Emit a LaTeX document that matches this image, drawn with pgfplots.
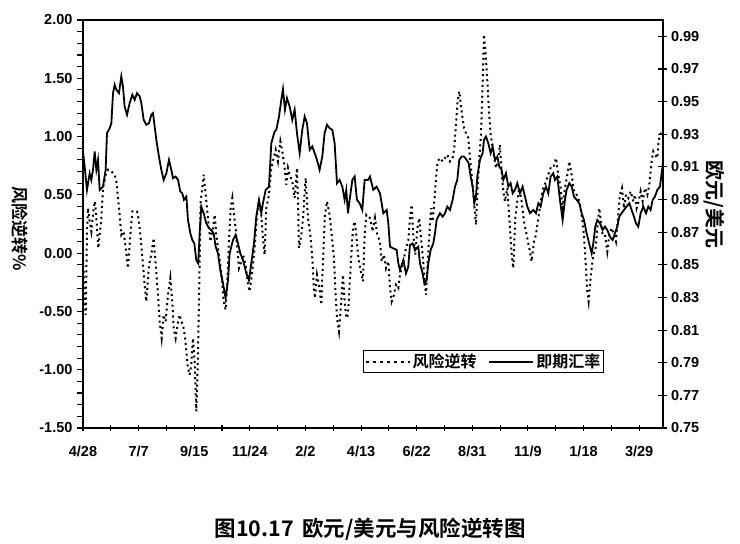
\documentclass[border=0pt]{standalone}
\usepackage{pgfplots}
\pgfplotsset{compat=1.18}
\usepackage{fontspec}
\setmainfont{Liberation Sans}
\newfontfamily\cjk{Noto Sans CJK SC}[BoldFont={Noto Sans CJK SC Bold}]

\pgfplotstableread{
day rr
0 -0.014
1.3 -0.272
3.4 -0.529
5.0 0.186
6.3 0.386
8.4 0.272
10.5 0.186
13.4 0.386
15.1 0.444
16.8 0.301
19.3 0.043
21.0 0.157
23.1 0.301
25.2 0.558
28.5 0.673
31.5 0.716
35.7 0.701
39.9 0.673
42.0 0.615
44.5 0.444
46.1 0.329
48.2 0.157
51.2 0.186
53.7 0.043
56.6 -0.129
59.6 0.157
62.1 0.358
65.0 0.358
68.0 0.358
70.5 0.272
73.0 0.100
75.5 -0.100
77.6 -0.272
79.7 -0.415
83.1 -0.100
86.0 -0.014
88.9 0.129
91.5 -0.100
94.4 -0.358
96.5 -0.587
99.0 -0.730
101.5 -0.529
104.0 -0.587
107.0 -0.358
109.9 -0.214
112.4 -0.415
114.1 -0.644
116.6 -0.730
119.6 -0.587
121.7 -0.529
123.8 -0.587
125.9 -0.615
128.0 -0.701
130.1 -0.844
132.1 -0.987
134.2 -1.044
136.3 -0.959
138.4 -0.730
140.5 -0.930
142.6 -1.359
144.3 -0.987
146.0 -0.415
148.1 0.444
150.2 0.558
151.9 0.673
154.4 0.501
157.3 0.301
160.3 0.100
163.6 0.215
165.7 0.329
167.8 0.157
169.9 0.043
172.8 -0.100
175.4 -0.272
177.0 -0.415
179.5 -0.486
181.6 -0.243
183.7 0.100
185.8 0.386
187.9 0.472
190.0 0.329
192.1 0.215
194.2 0.043
196.3 -0.129
198.0 -0.100
201.4 -0.014
204.7 -0.100
207.7 -0.272
209.8 -0.329
213.1 -0.157
216.0 0.043
219.0 0.329
221.5 0.444
224.4 0.329
226.5 0.129
228.6 -0.014
230.7 0.386
234.1 0.501
237.0 0.730
240.0 0.816
242.5 0.887
245.4 0.787
248.4 0.959
250.9 0.873
253.8 0.730
255.9 0.587
258.0 0.730
260.1 0.673
263.4 0.615
266.4 0.472
269.3 0.730
270.6 0.444
271.8 0.043
274.8 0.157
276.9 0.301
280.2 0.644
283.2 0.301
286.1 0.157
288.6 -0.043
290.3 -0.272
292.0 -0.386
294.5 -0.186
297.0 -0.272
299.9 -0.443
302.0 -0.071
304.6 0.329
307.1 0.444
310.4 0.329
313.0 0.157
315.5 -0.014
318.0 -0.358
319.7 -0.558
322.2 -0.672
325.1 -0.415
327.2 -0.186
329.3 -0.415
331.4 -0.558
333.5 -0.529
335.6 -0.272
337.7 -0.014
339.8 0.215
341.9 0.272
344.0 0.157
346.1 -0.014
349.0 -0.129
352.4 -0.243
354.5 0.157
356.6 0.329
361.2 0.301
364.6 0.186
367.5 0.301
370.4 0.157
373.8 0.100
375.9 -0.071
378.8 -0.014
381.3 -0.129
384.3 -0.071
386.4 -0.300
388.5 -0.415
391.4 -0.358
393.9 -0.272
396.9 -0.300
398.9 -0.186
401.1 -0.129
403.2 -0.071
406.5 0.043
409.4 0.100
411.5 0.301
413.6 0.415
415.7 0.157
418.3 -0.014
420.8 0.215
423.3 0.301
425.0 0.157
427.5 -0.014
430.0 -0.243
431.7 -0.358
433.4 -0.129
435.9 0.157
438.0 0.386
440.1 0.272
442.2 0.444
444.3 0.644
446.4 0.787
449.3 0.816
452.7 0.787
455.6 0.816
458.5 0.844
461.9 0.787
465.2 0.816
467.3 0.902
469.4 1.102
471.5 1.302
473.6 1.388
476.6 1.216
479.5 1.073
482.9 1.016
485.0 0.987
487.1 0.816
489.6 0.644
492.1 0.444
494.6 0.243
496.7 0.558
498.8 0.816
500.9 1.016
503.0 1.445
504.7 1.875
506.8 1.703
508.9 1.474
511.0 1.216
513.1 1.016
516.4 0.873
519.8 0.730
522.7 0.816
524.8 0.930
526.9 0.701
529.0 0.530
531.1 0.444
534.0 0.558
537.4 0.215
539.5 -0.014
541.6 -0.129
544.1 0.301
546.6 0.444
549.1 0.558
552.1 0.444
555.0 0.272
558.4 0.157
561.7 0.043
564.7 -0.071
567.6 0.100
570.1 0.157
573.1 0.301
576.0 0.444
579.3 0.558
582.7 0.615
585.6 0.673
588.6 0.730
591.9 0.730
595.3 0.816
598.2 0.673
601.2 0.558
603.7 0.386
606.6 0.558
609.6 0.673
612.1 0.787
615.0 0.673
618.0 0.530
621.3 0.501
624.7 0.444
627.6 0.329
630.5 0.157
633.1 -0.129
634.7 -0.329
636.4 -0.415
638.1 -0.272
640.2 -0.129
642.3 -0.014
645.2 0.043
647.3 0.215
649.8 0.386
651.9 0.272
654.0 0.157
657.0 0.157
659.9 0.014
662.4 0.157
665.4 0.215
668.3 0.157
670.8 0.100
673.7 0.329
675.8 0.501
678.4 0.558
680.9 0.386
683.4 0.501
686.3 0.472
689.3 0.530
692.6 0.444
694.7 0.501
696.8 0.386
699.3 0.444
701.9 0.530
704.4 0.444
707.3 0.558
710.3 0.501
712.8 0.587
715.7 0.787
717.8 0.873
719.9 0.844
722.8 0.816
724.5 0.959
726.2 1.016
728.7 1.045
730 1.045
}\riskrev

\pgfplotstableread{
day spot
0 0.9194
2.1 0.9102
5.0 0.8959
8.4 0.9061
10.5 0.9020
12.6 0.9082
14.7 0.9194
16.8 0.9082
18.9 0.9143
21.0 0.8959
25.2 0.8979
28.5 0.9082
30.2 0.9307
33.6 0.9337
35.7 0.9368
37.8 0.9552
39.9 0.9603
42.0 0.9573
45.3 0.9552
48.2 0.9654
50.3 0.9593
52.4 0.9470
55.4 0.9419
58.7 0.9491
62.1 0.9542
65.0 0.9511
68.0 0.9552
71.3 0.9532
73.4 0.9491
76.4 0.9388
79.7 0.9358
83.1 0.9368
86.0 0.9419
88.1 0.9429
90.2 0.9348
92.3 0.9266
95.6 0.9163
98.6 0.9082
101.5 0.9020
104.9 0.9061
108.2 0.9143
111.2 0.9082
113.3 0.9030
116.6 0.9041
119.6 0.9020
122.5 0.8949
125.0 0.8938
127.1 0.8898
130.1 0.8918
132.1 0.8775
135.1 0.8693
137.6 0.8652
140.1 0.8631
142.6 0.8529
145.1 0.8509
146.8 0.8693
148.9 0.8857
151.9 0.8816
155.2 0.8754
158.6 0.8724
161.5 0.8713
164.4 0.8693
167.0 0.8611
169.9 0.8570
172.8 0.8468
176.2 0.8386
179.5 0.8294
182.5 0.8406
184.6 0.8570
188.8 0.8652
192.1 0.8683
195.1 0.8631
198.0 0.8570
201.4 0.8529
205.6 0.8447
208.9 0.8406
211.8 0.8509
215.2 0.8631
218.1 0.8795
221.5 0.8898
224.4 0.8816
226.5 0.8877
229.9 0.8959
234.1 0.8979
237.0 0.9245
241.2 0.9317
243.3 0.9327
246.7 0.9409
249.6 0.9511
251.7 0.9577
254.2 0.9450
256.7 0.9521
260.1 0.9470
263.4 0.9388
266.4 0.9450
269.3 0.9307
272.7 0.9184
276.0 0.9327
279.0 0.9409
281.9 0.9368
285.3 0.9204
288.6 0.9225
291.6 0.9184
294.5 0.9143
297.8 0.9082
301.2 0.9163
304.1 0.9307
307.1 0.9358
310.4 0.9337
313.8 0.9327
316.7 0.9245
319.7 0.9000
323.0 0.9020
326.4 0.8979
329.3 0.8898
331.4 0.8959
333.5 0.8816
335.6 0.8898
339.0 0.9020
341.9 0.9041
344.8 0.8898
348.2 0.8877
351.5 0.8836
354.5 0.9020
358.7 0.9020
361.2 0.9041
365.4 0.8959
369.6 0.8979
373.8 0.8938
378.0 0.8816
382.2 0.8836
384.3 0.8754
386.4 0.8611
390.6 0.8601
394.8 0.8591
396.9 0.8509
398.9 0.8468
403.2 0.8529
406.5 0.8447
409.4 0.8488
411.5 0.8621
414.9 0.8631
417.8 0.8591
422.0 0.8611
424.1 0.8509
427.5 0.8447
429.6 0.8386
432.5 0.8406
434.6 0.8509
437.6 0.8591
440.9 0.8631
443.0 0.8693
445.1 0.8775
449.3 0.8816
452.7 0.8795
455.6 0.8816
458.5 0.8857
461.9 0.8836
465.2 0.8898
468.2 0.8979
471.1 0.9020
473.6 0.9143
476.6 0.9163
479.5 0.9163
482.9 0.9143
485.4 0.9122
487.9 0.9041
490.4 0.8979
492.5 0.8877
494.6 0.8918
496.3 0.9041
499.6 0.9143
503.0 0.9184
504.7 0.9266
507.2 0.9286
510.1 0.9245
513.1 0.9184
515.6 0.9225
518.5 0.9143
521.5 0.9163
524.0 0.9102
526.9 0.9082
529.0 0.9020
532.4 0.9061
535.3 0.8979
538.2 0.9000
540.8 0.8938
543.7 0.8959
546.6 0.9000
550.0 0.8938
553.3 0.8979
556.3 0.8918
559.2 0.8857
562.6 0.8816
566.8 0.8836
570.1 0.8816
573.1 0.8877
576.0 0.8857
579.3 0.8938
582.7 0.8979
585.6 0.8938
588.6 0.9041
591.9 0.9061
594.0 0.9020
597.0 0.9041
600.3 0.8898
603.7 0.8775
606.6 0.8898
608.7 0.8959
612.1 0.9000
615.0 0.8979
618.0 0.8918
621.3 0.8898
624.7 0.8877
627.6 0.8816
630.5 0.8775
633.9 0.8693
636.0 0.8652
638.1 0.8611
640.2 0.8570
642.3 0.8631
644.8 0.8734
647.3 0.8775
650.7 0.8754
654.0 0.8713
657.0 0.8734
659.9 0.8713
663.2 0.8672
666.6 0.8652
669.5 0.8693
672.5 0.8734
675.0 0.8795
677.9 0.8816
680.9 0.8836
684.2 0.8857
687.6 0.8877
690.5 0.8836
693.5 0.8795
696.0 0.8754
698.9 0.8734
701.9 0.8816
705.2 0.8857
708.6 0.8816
711.5 0.8857
714.4 0.8836
717.0 0.8898
719.9 0.8918
722.8 0.8959
726.2 0.8979
728.3 0.9061
730 0.9122
}\spot

\begin{document}
\begin{tikzpicture}
\useasboundingbox (0pt,0pt) rectangle (740pt,544pt);
\pgfplotsset{
  common/.style={
    at={(83pt,116pt)}, anchor=south west,
    scale only axis, width=580pt, height=408pt,
    xmin=0, xmax=730,
    axis line style={line width=1.3pt},
    tick style={line width=1.1pt, black},
    major tick length=6pt, minor tick length=6pt,
    tick label style={font=\fontsize{14.5}{14.5}\selectfont\bfseries},
    /pgf/number format/assume math mode=true,
  },
}
\begin{axis}[common,
  ymin=-1.5, ymax=2,
  tick pos=left,
  xtick={0,70,...,700},
  minor xtick={35,105,...,665},
  xticklabels={4/28,7/7,9/15,11/24,2/2,4/13,6/22,8/31,11/9,1/18,3/29},
  xtick align=center,
  ytick={-1.5,-1,-0.5,0,0.5,1,1.5,2},
  minor ytick={-1.4,-1.3,-1.2,-1.1,-0.9,-0.8,-0.7,-0.6,-0.4,-0.3,-0.2,-0.1,0.1,0.2,0.3,0.4,0.6,0.7,0.8,0.9,1.1,1.2,1.3,1.4,1.6,1.7,1.8,1.9},
  ytick align=outside,
  yticklabel style={/pgf/number format/.cd, fixed, fixed zerofill, precision=2},
  xticklabel shift=11pt,
  yticklabel shift=1pt,
  clip=false,
]
\addplot[black, line width=2pt, dash pattern=on 2pt off 3.4pt] table[x=day, y=rr] {\riskrev};
\node[rotate=-90, font=\cjk\fontsize{17}{17}\selectfont\bfseries] at (rel axis cs:-0.108,0.488) {风险逆转\%};
\node[font=\cjk\fontsize{21.5}{21.5}\selectfont\bfseries] at (rel axis cs:0.495,-0.2475) {图10.17\hspace{0.4em}欧元/美元与风险逆转图};
\end{axis}
\begin{axis}[common,
  ymin=0.75, ymax=1.0,
  axis x line=none,
  axis y line*=right,
  ytick={0.75,0.77,0.79,0.81,0.83,0.85,0.87,0.89,0.91,0.93,0.95,0.97,0.99},
  ytick align=center,
  major tick length=9pt,
  yticklabel style={/pgf/number format/.cd, fixed, fixed zerofill, precision=2},
  yticklabel shift=0pt,
  clip=false,
  legend columns=2,
  legend style={at={(0.4828,0.191)}, anchor=north west, draw=black, line width=1.1pt,
    font=\cjk\fontsize{16}{16}\selectfont\bfseries, inner sep=1.5pt,
    /tikz/every even column/.append style={column sep=10pt}},
  legend image code/.code={\draw[#1] (0pt,0pt) -- (44pt,0pt);},
]
\addlegendimage{black, line width=1.5pt, dash pattern=on 3pt off 4pt}
\addlegendentry{风险逆转}
\addplot[black, line width=1.8pt] table[x=day, y=spot] {\spot};
\addlegendentry{即期汇率}
\node[rotate=-90, font=\cjk\fontsize{20}{20}\selectfont\bfseries] at (rel axis cs:1.089,0.547) {欧元/美元};
\end{axis}
\end{tikzpicture}
\end{document}
